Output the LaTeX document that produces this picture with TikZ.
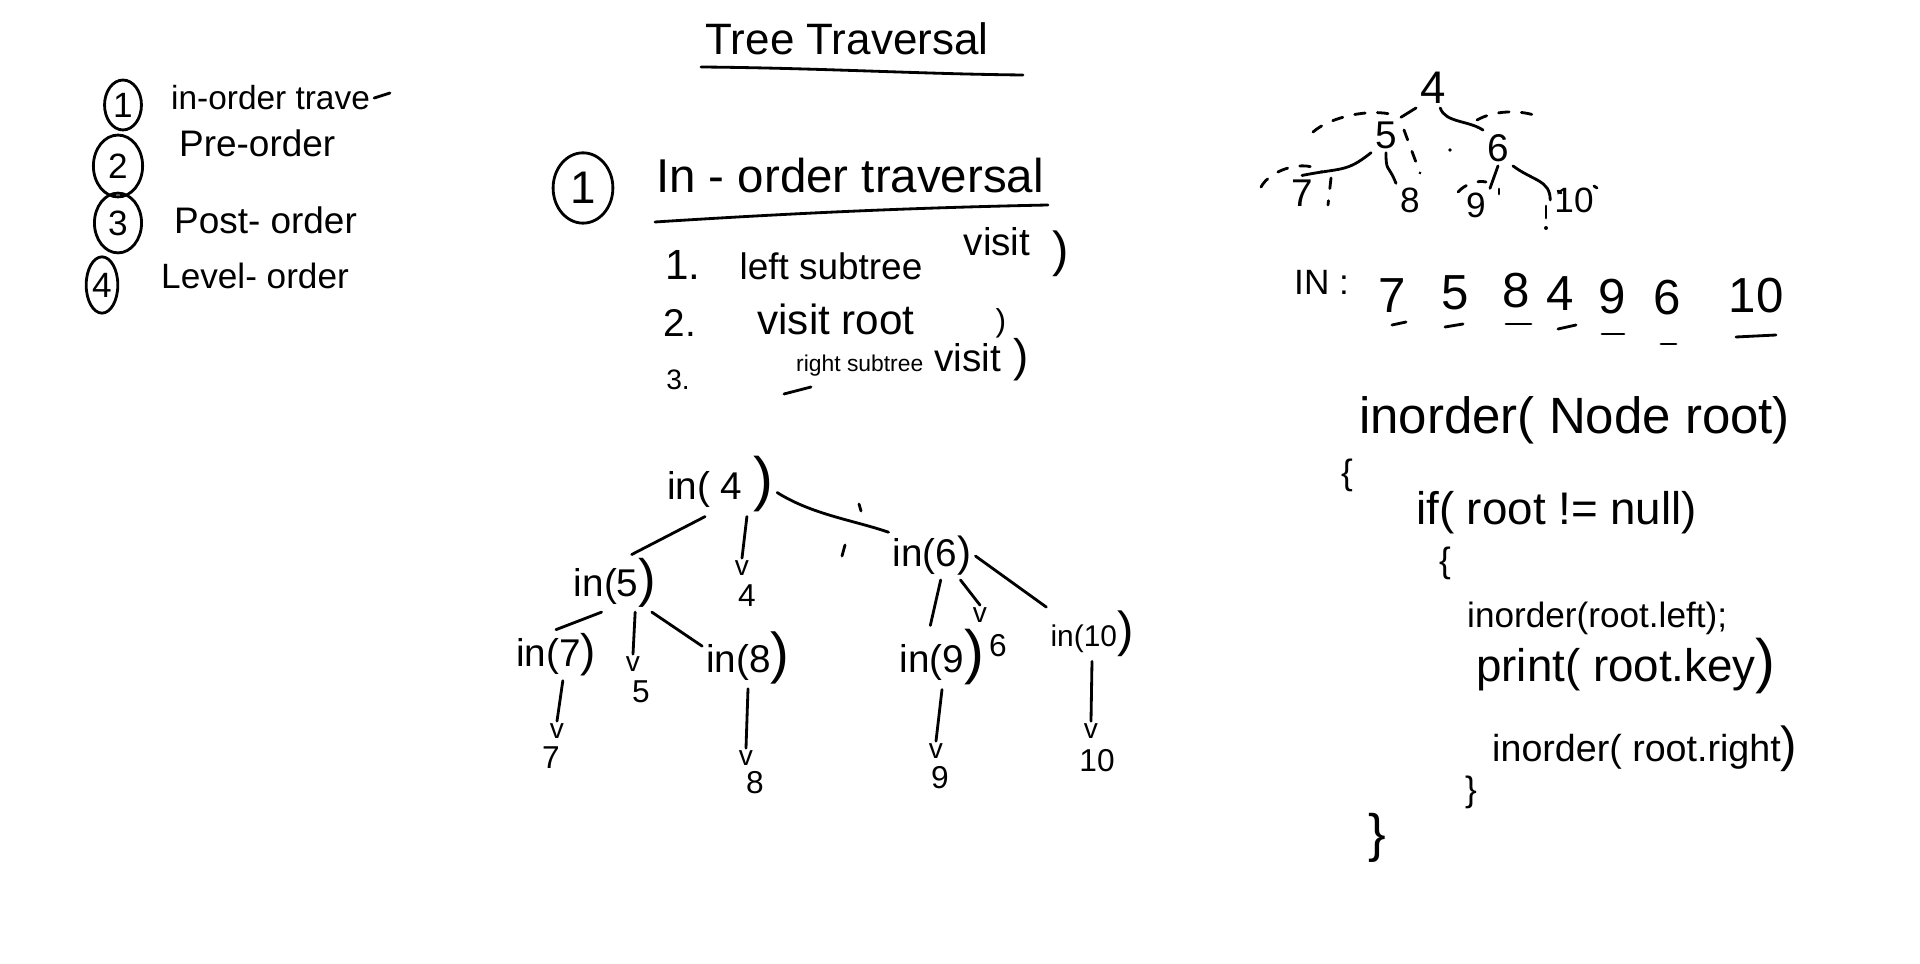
\documentclass[tikz,border=0pt]{standalone}
\usepackage{fontspec}
\setmainfont{Liberation Sans}
\usetikzlibrary{shapes.geometric}
\newcommand\fsz[1]{\fontsize{#1}{#1}\selectfont}
\begin{document}
\begin{tikzpicture}[x=0.01cm,y=-0.01cm,
  pen/.style={line width=0.8pt, line cap=round, line join=round},
  trace/.style={line width=0.8pt, line cap=round, dash pattern=on 3pt off 3.5pt},
  txt/.style={inner sep=1pt},
  circnum/.style={ellipse, draw, line width=0.8pt, inner sep=0pt, font=\fsz{10}},
  tl/.style={inner sep=1pt, font=\fsz{11}, anchor=base},
  vmark/.style={inner sep=0.5pt, font=\fsz{8}},
  leaf/.style={inner sep=1pt, font=\fsz{9}}]
\fill[white] (0,0) rectangle (1920,964);
\useasboundingbox (0,0) rectangle (1920,964);

% ---------- left list ----------
\node[circnum, minimum width=10.5pt, minimum height=14.2pt] (n1) at (123,105) {1};
\node[circnum, minimum width=14pt, minimum height=17.6pt] (n2) at (118,166) {2};
\node[circnum, minimum width=13.4pt, minimum height=17pt] (n3) at (118,223) {3};
\node[circnum, minimum width=9pt, minimum height=16pt] (n4) at (102,285) {4};
\node[txt, anchor=base west, font=\fsz{9.5}] (t1) at (167,110) {in-order trave};
\coordinate (t1e) at (390,93);
\draw[pen] (t1.east) -- (t1e);
\node[txt, anchor=base west, font=\fsz{10.5}] (t2) at (175,157) {Pre-order};
\node[txt, anchor=base west, font=\fsz{10.5}] (t3) at (170,234) {Post- order};
\node[txt, anchor=base west, font=\fsz{10}] (t4) at (157,289) {Level- order};

% ---------- title ----------
\node[txt, anchor=base, font=\fsz{12.5}] (title) at (847,55) {Tree Traversal};
\draw[pen] (701,67) .. controls (820,68) and (920,74) .. (1023,75);

% ---------- section 1 ----------
\node[circnum, minimum width=17pt, minimum height=20pt, font=\fsz{13}] (s1) at (583,188) {1};
\node[txt, anchor=base, font=\fsz{13.5}] (sec) at (850,193) {In - order traversal};
\draw[pen] (655,222) .. controls (780,214) and (900,208) .. (1048,205);

\node[txt, anchor=base, font=\fsz{12}] (st1n) at (683,280) {1.};
\node[txt, anchor=base, font=\fsz{10.5}] (st1a) at (831,280) {left subtree};
\node[txt, anchor=base, font=\fsz{11}] (st1b) at (997,256) {visit};
\node[txt, font=\fsz{14}] (st1c) at (1061,254) {)};
\node[txt, anchor=base, font=\fsz{11}] (st2n) at (680,337) {2.};
\node[txt, anchor=base, font=\fsz{12}] (st2a) at (836,335) {visit root};
\node[txt, font=\fsz{9}] (st2c) at (1001,323) {)};
\node[txt, anchor=base, font=\fsz{8}] (st3n) at (678,390) {3.};
\node[txt, anchor=base west, font=\fsz{6.5}] (st3a) at (792,372) {right subtree};
\node[txt, anchor=base west, font=\fsz{11}] (st3b) at (930,372) {visit};
\node[txt, font=\fsz{13}] (st3c) at (1021,360) {)};
\draw[pen] (784,394) -- (811,387);

% ---------- recursion tree ----------
\node[tl] (in4) at (720,500) {in( 4 {\fsz{17})}};
\node[tl] (in5) at (615,597) {in(5{\fsz{15})}};
\node[tl] (in7) at (556,667) {in(7{\fsz{13})}};
\node[tl] (in8) at (748,673) {in(8{\fsz{16})}};
\node[tl] (in6) at (932,567) {in(6{\fsz{12})}};
\node[tl] (in9) at (942,673) {in(9{\fsz{17})}};
\node[tl, font=\fsz{8.5}] (in10) at (1092,647) {in(10{\fsz{14})}};

\node[vmark] (o4) at (742,568) {v};   \node[leaf] (d4) at (747,596) {4};
\node[vmark] (o5) at (633,664) {v};   \node[leaf] (d5) at (641,692) {5};
\node[vmark] (o7) at (557,731) {v};   \node[leaf] (d7) at (551,758) {7};
\node[vmark] (o8) at (746,758) {v};   \node[leaf] (d8) at (755,783) {8};
\node[vmark] (o6) at (980,615) {v};   \node[leaf] (d6) at (998,646) {6};
\node[vmark] (o9) at (936,751) {v};   \node[leaf] (d9) at (940,778) {9};
\node[vmark] (o10) at (1091,731) {v}; \node[leaf] (d10) at (1097,761) {10};

\draw[pen] (in4.-115) -- (in5.60);
\draw[pen] (in4.-50) -- (o4.north);
\draw[pen] (in4.-8) .. controls +(35,22) and +(-35,-12) .. (in6.north west);
\draw[pen] (859,504) -- (861,511);
\draw[pen] (845,545) -- (842,556);
\draw[pen] (in5.-115) -- (in7.north);
\draw[pen] (in5.-55) -- (o5.north);
\draw[pen] (in5.-38) -- (in8.165);
\draw[pen] (in7.-75) -- (o7.north);
\draw[pen] (in8.south) -- (o8.north);
\draw[pen] (in6.-70) -- (in9.110);
\draw[pen] (in6.-40) -- (o6.north);
\draw[pen] (in6.east) -- (in10.north west);
\draw[pen] (in9.south) -- (o9.north);
\draw[pen] (in10.south) -- (o10.north);

% ---------- small tree ----------
\node[txt, font=\fsz{13}] (r4) at (1433,88) {4};
\node[txt, font=\fsz{11}] (r5) at (1386,135) {5};
\node[txt, font=\fsz{11}] (r6) at (1498,148) {6};
\node[txt, font=\fsz{11}] (r7) at (1302,193) {7};
\node[txt, font=\fsz{10}] (r8) at (1410,200) {8};
\node[txt, font=\fsz{10}] (r9) at (1476,205) {9};
\node[txt, font=\fsz{10}] (r10) at (1574,200) {10};
\draw[pen] (r4.south west) -- (r5.north east);
\draw[pen] (r4.-70) .. controls +(5,15) and +(-15,-10) .. (r6.north west);
\draw[pen] (r5.south west) .. controls +(-25,20) and +(40,-8) .. (r7.north);
\draw[pen] (r5.south) .. controls +(0,20) and +(-8,-20) .. (r8.north west);
\draw[pen] (r6.south) -- (r9.north east);
\draw[pen] (r6.south east) .. controls +(20,15) and +(0,-20) .. (r10.west);

\draw[trace] (1313,132) .. controls (1330,117) and (1370,108) .. (1394,115);
\draw[trace] (1261,187) .. controls (1270,170) and (1305,158) .. (1322,172);
\draw[trace] (1404,130) -- (1420,173);
\draw[trace] (1331,178) -- (1328,205);
\fill (1450,150) circle (1.8);
\draw[trace] (1477,120) .. controls (1495,110) and (1520,110) .. (1537,116);
\draw[trace] (1458,192) .. controls (1465,184) and (1478,180) .. (1486,182);
\draw[pen] (1499,189) -- (1499,194);
\draw[pen] (1546,206) -- (1546,218);
\fill (1546,228) circle (2);
\draw[pen] (1558,191) -- (1561,193);
\draw[pen] (1594,186) -- (1597,188);

% ---------- IN row ----------
\node[txt, anchor=base west, font=\fsz{10}] (inlbl) at (1290,295) {IN :};
\node[txt, anchor=base, font=\fsz{14}] (q7) at (1392,313) {7};
\node[txt, anchor=base, font=\fsz{14}] (q5) at (1455,310) {5};
\node[txt, anchor=base, font=\fsz{14}] (q8) at (1516,308) {8};
\node[txt, anchor=base, font=\fsz{14}] (q4) at (1560,311) {4};
\node[txt, anchor=base, font=\fsz{14}] (q9) at (1612,314) {9};
\node[txt, anchor=base, font=\fsz{14}] (q6) at (1667,315) {6};
\node[txt, anchor=base, font=\fsz{14}] (q10) at (1756,313) {10};
\draw[pen] (1392,325) -- (1406,322);
\draw[pen] (1445,327) -- (1463,324);
\draw[pen] (1506,324) -- (1531,324);
\draw[pen] (1558,329) -- (1576,325);
\draw[pen] (1602,334) -- (1624,334);
\draw[pen] (1661,344) -- (1676,344);
\draw[pen] (1736,337) -- (1776,335);

% ---------- code ----------
\node[txt, anchor=base west, font=\fsz{14.5}] (k1) at (1355,434) {inorder( Node root)};
\node[txt, font=\fsz{10}] (k2) at (1347,475) {\{};
\node[txt, anchor=base west, font=\fsz{13}] (k3) at (1412,525) {if( root != null)};
\node[txt, font=\fsz{10}] (k4) at (1445,563) {\{};
\node[txt, anchor=base west, font=\fsz{10}] (k5) at (1463,628) {inorder(root.left);};
\node[txt, anchor=base west, font=\fsz{13}] (k6) at (1472,682) {print( root.key{\fsz{17})}};
\node[txt, anchor=base west, font=\fsz{10.7}] (k7) at (1488,762) {inorder( root.right{\fsz{14})}};
\node[txt, font=\fsz{10}] (k8) at (1471,792) {\}};
\node[txt, font=\fsz{15}] (k9) at (1377,838) {\}};
\end{tikzpicture}
\end{document}
